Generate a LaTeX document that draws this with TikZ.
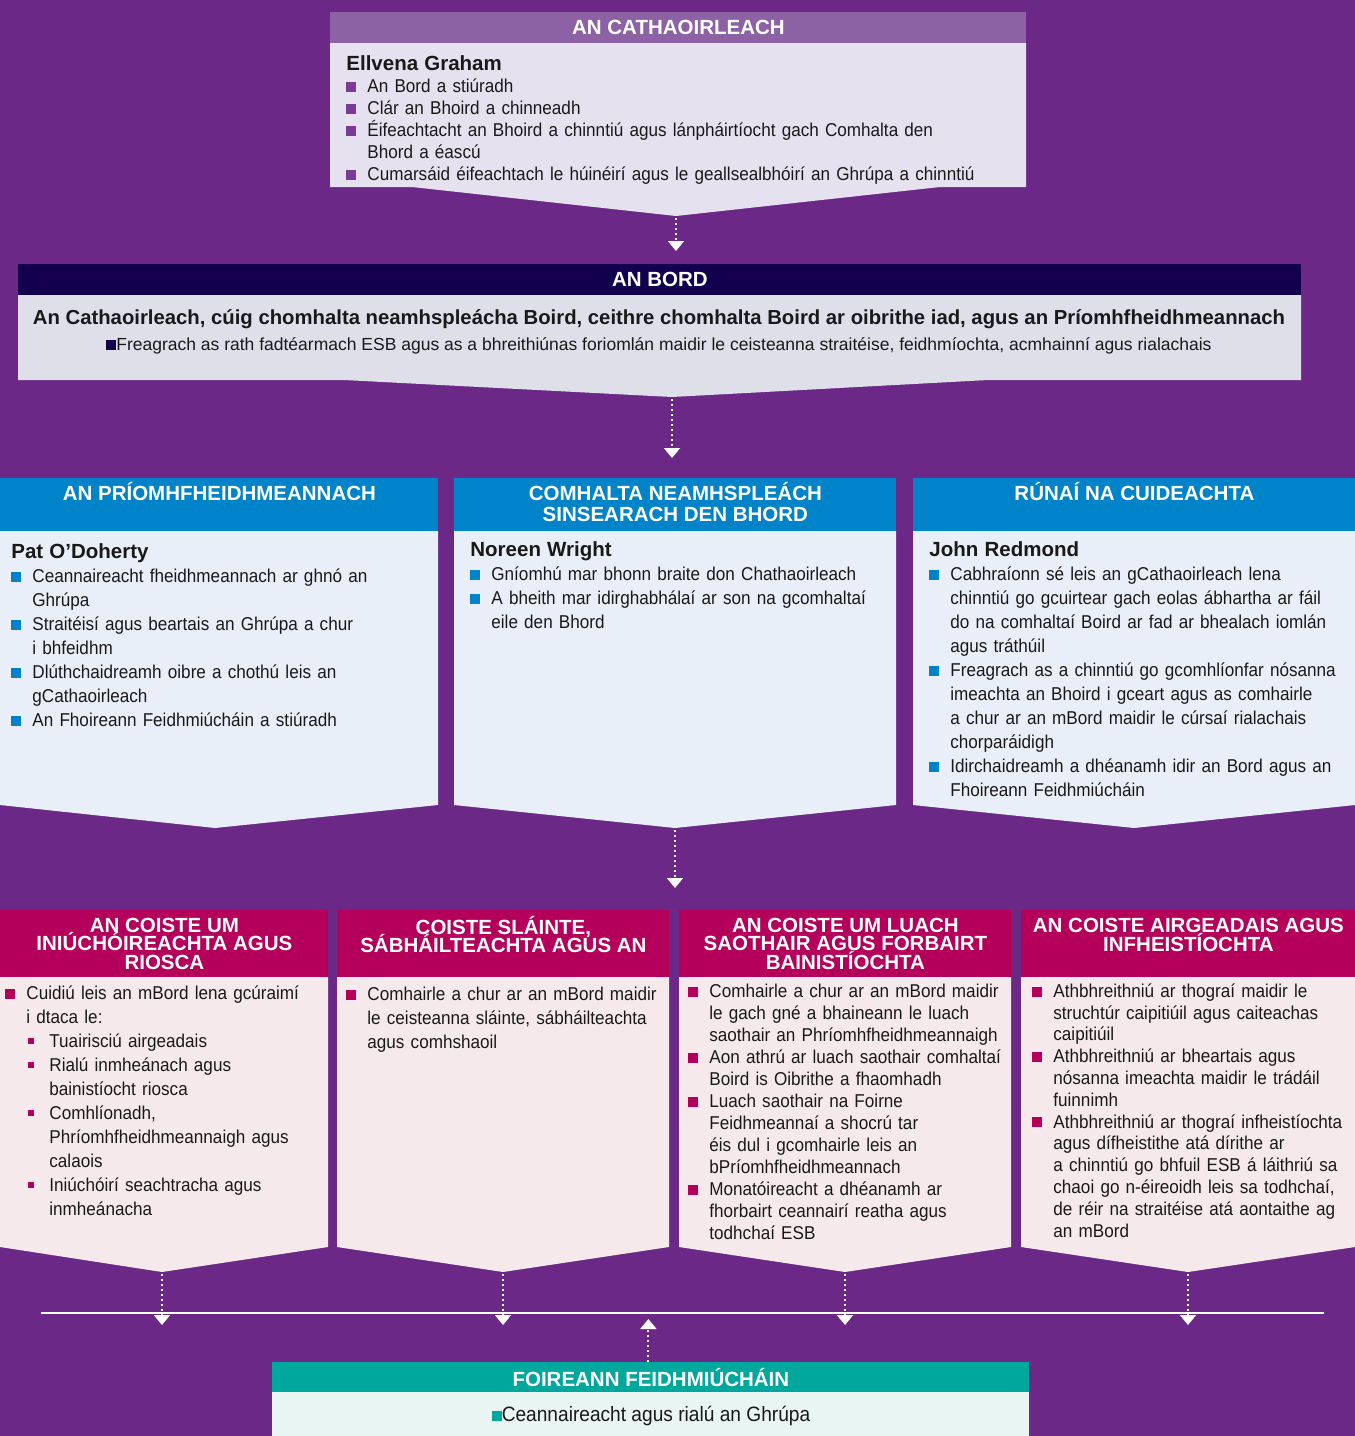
\documentclass[tikz,border=0pt]{standalone}
\usepackage{fontspec}
\setmainfont{Liberation Sans}
\newfontfamily\bodyfont[FakeStretch=0.92]{Liberation Sans}
\usetikzlibrary{positioning,arrows.meta}

\definecolor{bgpurple}{HTML}{6B2886}
\definecolor{chairhead}{HTML}{8C62A5}
\definecolor{chairbody}{HTML}{E6E1EF}
\definecolor{chairmark}{HTML}{7A3A96}
\definecolor{boardhead}{HTML}{12004F}
\definecolor{boardbody}{HTML}{DFDFEA}
\definecolor{bluehead}{HTML}{0083C9}
\definecolor{bluebody}{HTML}{E9EFF9}
\definecolor{redhead}{HTML}{B5005B}
\definecolor{redbody}{HTML}{F6E9EC}
\definecolor{tealhead}{HTML}{00A79D}
\definecolor{tealbody}{HTML}{E9F5F2}
\colorlet{bcol}{black}

% bullet items: square in the box colour, hanging indent
\newcommand\bitem[1]{\par\noindent\hangindent=10.5pt\hangafter=1\makebox[10.5pt][l]{\textcolor{bcol}{\rule[0.3pt]{5pt}{5pt}}}#1\par}
\newcommand\sitem[1]{\par\noindent\hangindent=22pt\hangafter=1\hspace*{11.5pt}\makebox[10.5pt][l]{\textcolor{bcol}{\rule[1.6pt]{3pt}{3pt}}}#1\par}
\newcommand\pname[1]{\par\noindent{\normalfont\bfseries\fontsize{10.25}{12}\selectfont #1}\par}
\newcommand\tightlines{\setlength{\lineskiplimit}{-20pt}}

\begin{document}
\begin{tikzpicture}[x=0.5pt, y=-0.5pt,
    hd/.style={rectangle, inner sep=0pt, anchor=north west, text=white,
      align=center, font={\bfseries\fontsize{10.25}{10.5}\selectfont\tightlines}},
    chairhd/.style={hd, fill=chairhead},
    boardhd/.style={hd, fill=boardhead},
    bluehd/.style={hd, fill=bluehead},
    redhd/.style={hd, fill=redhead, font={\bfseries\fontsize{10.25}{9.25}\selectfont\tightlines}},
    tealhd/.style={hd, fill=tealhead},
    txt/.style={inner sep=0pt, anchor=north west, align=left, text=black!90,
      font=\bodyfont\fontsize{9.3}{#1}\selectfont},
    txt/.default=12,
    bulletcol/.style={execute at begin node=\colorlet{bcol}{#1}},
    flow/.style={white, line width=1pt, dash pattern=on 1pt off 1.5pt,
      -{Triangle[width=8pt,length=5pt]}},
  ]
  \useasboundingbox (0,0) rectangle (1355,1436);
  \fill[bgpurple] (0,0) rectangle (1355,1436);

  % An Cathaoirleach
  \node[chairhd, minimum width=348pt, minimum height=15.5pt] (chairtop) at (330,12) {AN CATHAOIRLEACH};
  \fill[chairbody] (330,43) -- (1026,43) -- (1026,187) -- (940,187) -- (676,216)
    -- (412,187) -- (330,187) -- cycle;
  \coordinate (chairtip) at (676,216);
  \node[txt=11, bulletcol=chairmark, text width=330pt] (chairtxt) at (346,48) {%
    \pname{Ellvena Graham}
    \bitem{An Bord a stiúradh}
    \bitem{Clár an Bhoird a chinneadh}
    \bitem{Éifeachtacht an Bhoird a chinntiú agus lánpháirtíocht gach Comhalta den\newline Bhord a éascú}
    \bitem{Cumarsáid éifeachtach le húinéirí agus le geallsealbhóirí an Ghrúpa a chinntiú}};

  % An Bord
  \node[boardhd, minimum width=641.5pt, minimum height=15.5pt] (boardtop) at (18,264) {AN BORD};
  \fill[boardbody] (18,295) -- (1301,295) -- (1301,380) -- (988,380) -- (672,397)
    -- (344,380) -- (18,380) -- cycle;
  \coordinate (boardtip) at (672,397);
  \node[inner sep=0pt, align=center, text=black!90, font=\fontsize{8.75}{13}\selectfont] (boardtxt) at (659,332) {%
    {\bfseries\fontsize{10.15}{13}\selectfont An Cathaoirleach, cúig chomhalta neamhspleácha Boird, ceithre chomhalta Boird ar oibrithe iad, agus an Príomhfheidhmeannach}\\
    \textcolor{boardhead}{\rule[0.3pt]{5pt}{5pt}}Freagrach as rath fadtéarmach ESB agus as a bhreithiúnas foriomlán maidir le ceisteanna straitéise, feidhmíochta, acmhainní agus rialachais};

  % Third row
  \node[bluehd, minimum width=219pt, minimum height=26.5pt] (ceotop) at (0,478) {AN PRÍOMHFHEIDHMEANNACH\\[3pt]\mbox{}};
  \fill[bluebody] (0,531) -- (438,531) -- (438,805) -- (215,828) -- (0,805) -- cycle;
  \coordinate (ceotip) at (215,828);
  \node[txt, bulletcol=bluehead, text width=205pt] (ceotxt) at (11,534) {%
    \pname{Pat O’Doherty}
    \bitem{Ceannaireacht fheidhmeannach ar ghnó an\newline Ghrúpa}
    \bitem{Straitéisí agus beartais an Ghrúpa a chur\newline i bhfeidhm}
    \bitem{Dlúthchaidreamh oibre a chothú leis an\newline gCathaoirleach}
    \bitem{An Fhoireann Feidhmiúcháin a stiúradh}};

  \node[bluehd, minimum width=221pt, minimum height=26.5pt] (sidtop) at (454,478) {COMHALTA NEAMHSPLEÁCH\\SINSEARACH DEN BHORD\\[-7.5pt]\mbox{}};
  \fill[bluebody] (454,531) -- (896,531) -- (896,805) -- (675,828) -- (454,805) -- cycle;
  \coordinate (sidtip) at (675,828);
  \node[txt, bulletcol=bluehead, text width=207pt] (sidtxt) at (470,532) {%
    \pname{Noreen Wright}
    \bitem{Gníomhú mar bhonn braite don Chathaoirleach}
    \bitem{A bheith mar idirghabhálaí ar son na gcomhaltaí\newline eile den Bhord}};

  \node[bluehd, minimum width=221pt, minimum height=26.5pt] (sectop) at (913,478) {RÚNAÍ NA CUIDEACHTA\\[3pt]\mbox{}};
  \fill[bluebody] (913,531) -- (1355,531) -- (1355,805) -- (1134,828) -- (913,805) -- cycle;
  \coordinate (sectip) at (1134,828);
  \node[txt, bulletcol=bluehead, text width=210pt] (sectxt) at (929,532) {%
    \pname{John Redmond}
    \bitem{Cabhraíonn sé leis an gCathaoirleach lena\newline chinntiú go gcuirtear gach eolas ábhartha ar fáil\newline do na comhaltaí Boird ar fad ar bhealach iomlán\newline agus tráthúil}
    \bitem{Freagrach as a chinntiú go gcomhlíonfar nósanna\newline imeachta an Bhoird i gceart agus as comhairle\newline a chur ar an mBord maidir le cúrsaí rialachais\newline chorparáidigh}
    \bitem{Idirchaidreamh a dhéanamh idir an Bord agus an\newline Fhoireann Feidhmiúcháin}};

  % Committees
  \node[redhd, minimum width=164pt, minimum height=33.5pt] (audtop) at (0,910) {AN COISTE UM\\INIÚCHÓIREACHTA AGUS\\RIOSCA};
  \fill[redbody] (0,977) -- (328,977) -- (328,1247) -- (162,1272) -- (0,1247) -- cycle;
  \coordinate (audtip) at (162,1272);
  \node[txt, bulletcol=redhead, text width=158pt] (audtxt) at (5,975) {%
    \bitem{Cuidiú leis an mBord lena gcúraimí\newline i dtaca le:}
    \sitem{Tuairisciú airgeadais}
    \sitem{Rialú inmheánach agus\newline bainistíocht riosca}
    \sitem{Comhlíonadh,\newline Phríomhfheidhmeannaigh agus\newline calaois}
    \sitem{Iniúchóirí seachtracha agus\newline inmheánacha}};

  \node[redhd, minimum width=166pt, minimum height=33.5pt] (safetop) at (337,910) {COISTE SLÁINTE,\\SÁBHÁILTEACHTA AGUS AN\\\mbox{}};
  \fill[redbody] (337,977) -- (669,977) -- (669,1247) -- (503,1272) -- (337,1247) -- cycle;
  \coordinate (safetip) at (503,1272);
  \node[txt, bulletcol=redhead, text width=158pt] (safetxt) at (346,976) {%
    \bitem{Comhairle a chur ar an mBord maidir\newline le ceisteanna sláinte, sábháilteachta\newline agus comhshaoil}};

  \node[redhd, minimum width=166pt, minimum height=33.5pt] (remtop) at (679,910) {AN COISTE UM LUACH\\SAOTHAIR AGUS FORBAIRT\\BAINISTÍOCHTA};
  \fill[redbody] (679,977) -- (1011,977) -- (1011,1247) -- (845,1272) -- (679,1247) -- cycle;
  \coordinate (remtip) at (845,1272);
  \node[txt=11, bulletcol=redhead, text width=160pt] (remtxt) at (688,975) {%
    \bitem{Comhairle a chur ar an mBord maidir\newline le gach gné a bhaineann le luach\newline saothair an Phríomhfheidhmeannaigh}
    \bitem{Aon athrú ar luach saothair comhaltaí\newline Boird is Oibrithe a fhaomhadh}
    \bitem{Luach saothair na Foirne\newline Feidhmeannaí a shocrú tar\newline éis dul i gcomhairle leis an\newline bPríomhfheidhmeannach}
    \bitem{Monatóireacht a dhéanamh ar\newline fhorbairt ceannairí reatha agus\newline todhchaí ESB}};

  \node[redhd, minimum width=167pt, minimum height=33.5pt] (fintop) at (1021,910) {AN COISTE AIRGEADAIS AGUS\\INFHEISTÍOCHTA\\\mbox{}};
  \fill[redbody] (1021,977) -- (1355,977) -- (1355,1247) -- (1188,1272) -- (1021,1247) -- cycle;
  \coordinate (fintip) at (1188,1272);
  \node[txt=10.9, bulletcol=redhead, text width=160pt] (fintxt) at (1032,975) {%
    \bitem{Athbhreithniú ar thograí maidir le\newline struchtúr caipitiúil agus caiteachas\newline caipitiúil}
    \bitem{Athbhreithniú ar bheartais agus\newline nósanna imeachta maidir le trádáil\newline fuinnimh}
    \bitem{Athbhreithniú ar thograí infheistíochta\newline agus dífheistithe atá dírithe ar\newline a chinntiú go bhfuil ESB á láithriú sa\newline chaoi go n-éireoidh leis sa todhchaí,\newline de réir na straitéise atá aontaithe ag\newline an mBord}};

  % Foireann Feidhmiúcháin
  \node[tealhd, minimum width=378.5pt, minimum height=15pt] (tealtop) at (272,1362) {FOIREANN FEIDHMIÚCHÁIN};
  \fill[tealbody] (272,1392) rectangle (1029,1436);
  \node[inner sep=0pt, text=black!90, font=\bodyfont\fontsize{10.4}{12}\selectfont] (tealtxt) at (651,1416) {%
    \textcolor{tealhead}{\rule[0.3pt]{5pt}{5pt}}Ceannaireacht agus rialú an Ghrúpa};

  % Connectors
  \coordinate (busL) at (41,1313);
  \coordinate (busR) at (1324,1313);
  \draw[white, line width=1pt] (busL) -- (busR);
  \draw[flow, shorten <=1pt, shorten >=6.5pt] (chairtip) -- (chairtip |- boardtop.north);
  \draw[flow, shorten <=1pt, shorten >=10pt] (boardtip) -- (boardtip |- ceotop.north);
  \draw[flow, shorten <=1pt, shorten >=11pt] (sidtip) -- (sidtip |- audtop.north);
  \draw[flow, shorten <=1pt, shorten >=-6pt] (audtip) -- (audtip |- busL);
  \draw[flow, shorten <=1pt, shorten >=-6pt] (safetip) -- (safetip |- busL);
  \draw[flow, shorten <=1pt, shorten >=-6pt] (remtip) -- (remtip |- busL);
  \draw[flow, shorten <=1pt, shorten >=-6pt] (fintip) -- (fintip |- busL);
  \draw[flow, shorten >=3pt] ([xshift=-1.25pt]tealtop.north) -- ([xshift=-1.25pt]tealtop.north |- busL);
\end{tikzpicture}
\end{document}
